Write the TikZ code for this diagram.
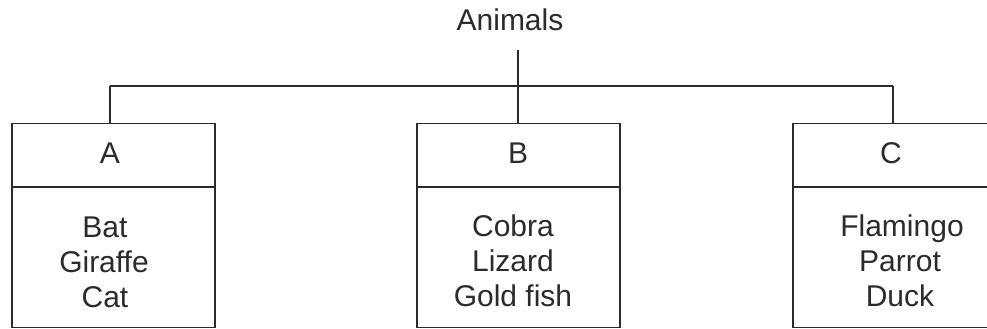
\documentclass[tikz,border=0pt]{standalone}
\usepackage{fontspec}
\setmainfont{Liberation Sans}
\definecolor{ink}{HTML}{2B2B2B}
\begin{document}
\begin{tikzpicture}[x=1pt,y=-1pt,
  box/.style={draw=ink, line width=1.3pt, rectangle, minimum width=203pt, minimum height=204pt, inner sep=0pt, outer sep=0pt},
  lbl/.style={text=ink, font=\fontsize{30}{35}\selectfont, inner sep=0pt, anchor=base},
  link/.style={draw=ink, line width=1.2pt}]
\useasboundingbox (0,0) rectangle (987,329);
\clip (0,0) rectangle (987,329);
\fill[white] (0,0) rectangle (987,329);
% root
\node[lbl] (root) at (510,31) {Animals};
\coordinate (rootbot) at (518,50);
\coordinate (jB) at (518,86);
\coordinate (jA) at (110,86);
\coordinate (jC) at (893,86);
% boxes
\node[box] (A) at (113.5,225.5) {};
\node[box] (B) at (518.5,225.5) {};
\node[box] (C) at (894.5,225.5) {};
% dividers
\draw[link] (A.west |- 0,187) -- (A.east |- 0,187);
\draw[link] (B.west |- 0,187) -- (B.east |- 0,187);
\draw[link] (C.west |- 0,187) -- (C.east |- 0,187);
% headers
\node[lbl] (hA) at (110,163) {A};
\node[lbl] (hB) at (518,163) {B};
\node[lbl] (hC) at (891,163) {C};
% bodies
\node[lbl] (a1) at (105,237) {Bat};
\node[lbl] (a2) at (104,272) {Giraffe};
\node[lbl] (a3) at (105,307) {Cat};
\node[lbl] (b1) at (513,236) {Cobra};
\node[lbl] (b2) at (513,271) {Lizard};
\node[lbl] (b3) at (513,306) {Gold fish};
\node[lbl] (c1) at (902,236) {Flamingo};
\node[lbl] (c2) at (900,271) {Parrot};
\node[lbl] (c3) at (900,306) {Duck};
% connectors
\draw[link] (rootbot) -- (jB);
\draw[link] (jA) -- (jC);
\draw[link] (jA) -- (jA |- A.north);
\draw[link] (jB) -- (jB |- B.north);
\draw[link] (jC) -- (jC |- C.north);
\end{tikzpicture}
\end{document}
